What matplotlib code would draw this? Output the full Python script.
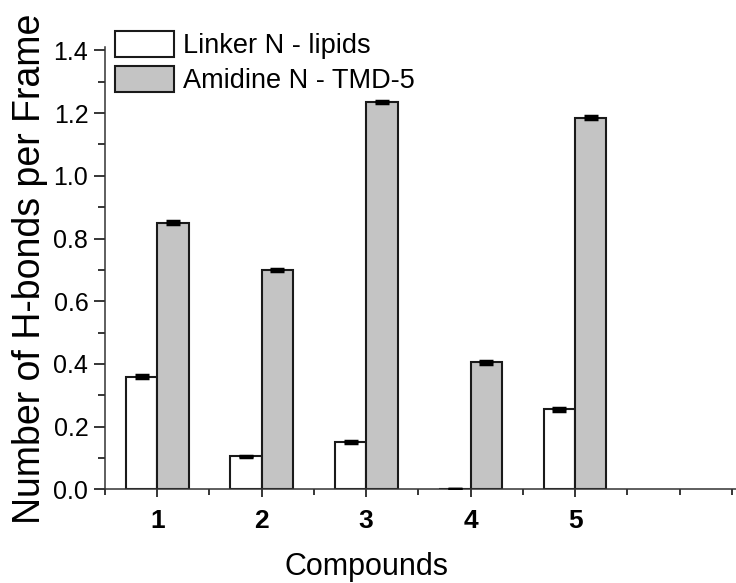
import numpy as np
import matplotlib
matplotlib.use('Agg')
from matplotlib import pyplot as plt
from matplotlib.ticker import MultipleLocator

# H-bond counts per frame for each compound

compounds = ['1', '2', '3', '4', '5']
linker = [0.36, 0.105, 0.15, 0.0, 0.255]
linker_err = [0.004, 0.003, 0.003, 0.0, 0.004]
amidine = [0.85, 0.70, 1.235, 0.405, 1.185]
amidine_err = [0.005, 0.004, 0.004, 0.004, 0.005]

plt.rcParams['font.family'] = ['Liberation Sans', 'DejaVu Sans']

fig = plt.figure(figsize=(7.36, 5.83), dpi=100)
ax = fig.add_axes([0.1427, 0.1605, 0.8573, 0.7585])

x = np.arange(1, len(compounds) + 1)
w = 0.3
ax.bar(x - w / 2, linker, w, color='white', edgecolor='#1a1a1a', lw=1.5,
       label='Linker N - lipids', zorder=2)
ax.bar(x + w / 2, amidine, w, color='#c4c4c4', edgecolor='#1a1a1a', lw=1.5,
       label='Amidine N - TMD-5', zorder=2)
ax.errorbar(x - w / 2, linker, yerr=linker_err, fmt='none', ecolor='black',
            elinewidth=2.5, capsize=5, capthick=2.5, zorder=3)
ax.errorbar(x + w / 2, amidine, yerr=amidine_err, fmt='none', ecolor='black',
            elinewidth=2.5, capsize=5, capthick=2.5, zorder=3)

ax.set_xlim(0.5, 6.54)
ax.set_ylim(0, 1.41)
ax.set_xticks(x)
ax.set_xticklabels(compounds, fontweight='bold', fontsize=19)
ax.xaxis.set_minor_locator(MultipleLocator(0.5))
ax.yaxis.set_major_locator(MultipleLocator(0.2))
ax.yaxis.set_minor_locator(MultipleLocator(0.1))
ax.yaxis.set_major_formatter(matplotlib.ticker.FormatStrFormatter('%.1f'))
ax.tick_params(axis='y', which='major', labelsize=18, length=8, width=1.1, pad=4)
ax.tick_params(axis='y', which='minor', length=5, width=1.1)
ax.tick_params(axis='x', which='major', length=6, width=1.1, pad=8)
ax.tick_params(axis='x', which='minor', length=4, width=1.1)

for s in ['top', 'right']:
    ax.spines[s].set_visible(False)
for s in ['left', 'bottom']:
    ax.spines[s].set_linewidth(1.1)
    ax.spines[s].set_color('#333333')

ax.set_xlabel('Compounds', fontsize=22)
ax.set_ylabel('Number of H-bonds per Frame', fontsize=27, labelpad=4)

ax.legend(loc='upper left', bbox_to_anchor=(0.156, 0.947),
          bbox_transform=fig.transFigure, frameon=False, fontsize=19.5,
          handlelength=2.2, handleheight=1.1, handletextpad=0.3,
          labelspacing=0.25, borderpad=0, borderaxespad=0)

# put the x label under compound 3, just above the bottom edge
ax.xaxis.label.set_transform(matplotlib.transforms.blended_transform_factory(
    ax.transData, fig.transFigure))
ax.xaxis.label.set_position((3.0, 0.002))
ax.xaxis.label.set_va('bottom')
ax.xaxis.set_label_coords(3.0, 0.002, transform=matplotlib.transforms.blended_transform_factory(
    ax.transData, fig.transFigure))

fig.savefig('out.png', dpi=100)
